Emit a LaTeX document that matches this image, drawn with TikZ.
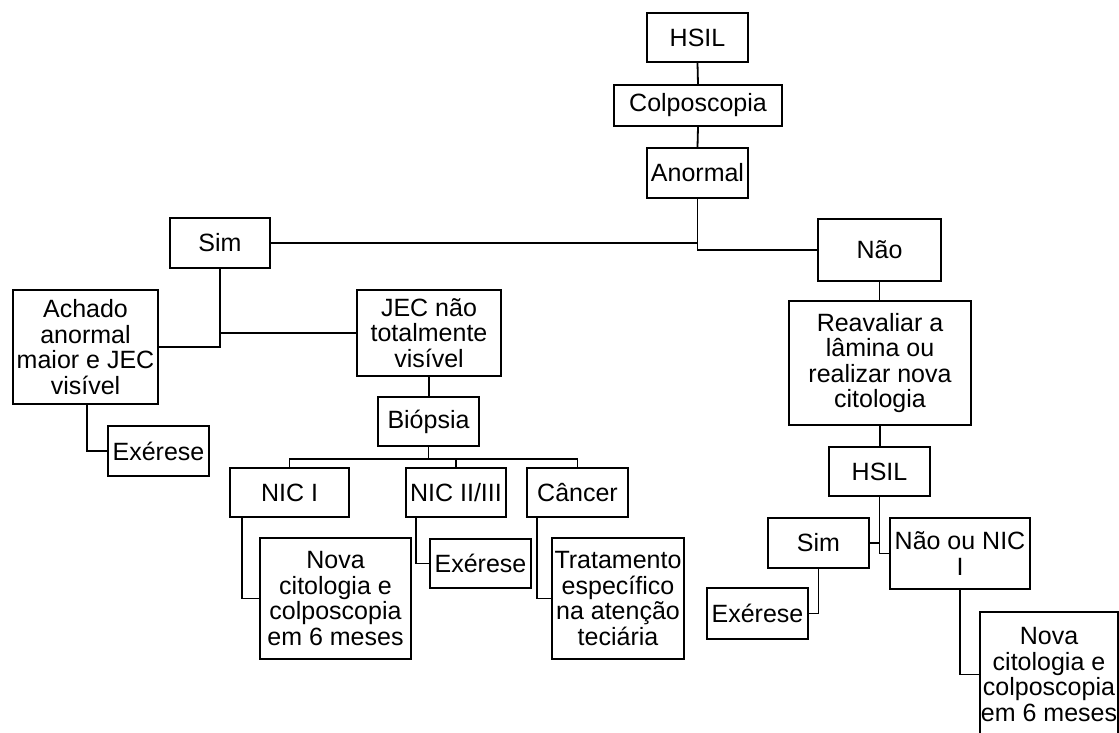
\documentclass[tikz,border=0pt]{standalone}
\usepackage{fontspec}
\setmainfont{Liberation Sans}
\begin{document}
\begin{tikzpicture}[x=1pt,y=-1pt,
  box/.style={draw=black,line width=1.8pt,fill=white,inner sep=0pt,align=center,
    font=\fontsize{25}{25.6}\selectfont},
  link/.style={draw=black,line width=1.8pt}]
\useasboundingbox (0,0) rectangle (1119,733);
\clip (0,0) rectangle (1119,733);

% top chain
\node[box,minimum width=101pt,minimum height=49pt] (hsil) at (697.5,37.5) {HSIL};
\node[box,minimum width=168pt,minimum height=41pt] (colp) at (698,105.5) {Colposcopia};
\node[box,minimum width=101pt,minimum height=50pt] (anor) at (697.5,173) {Anormal};

% first answer level
\node[box,minimum width=100pt,minimum height=50pt] (sim) at (220,243) {Sim};
\node[box,minimum width=123pt,minimum height=62pt] (nao) at (879.5,250) {Não};

% left branch
\node[box,minimum width=145pt,minimum height=114pt] (achado) at (85.5,347) {Achado\\anormal\\maior e JEC\\visível};
\node[box,minimum width=144pt,minimum height=86pt] (jec) at (429,333) {JEC não\\totalmente\\visível};
\node[box,minimum width=101pt,minimum height=50pt] (exa) at (158.5,451) {Exérese};
\node[box,minimum width=101pt,minimum height=49pt] (biop) at (428.5,421.5) {Biópsia};
\node[box,minimum width=119pt,minimum height=49pt] (nic1) at (289.5,492.5) {NIC I};
\node[box,minimum width=100pt,minimum height=49pt] (nic23) at (456,492.5) {NIC II/III};
\node[box,minimum width=101pt,minimum height=49pt] (canc) at (577.5,492.5) {Câncer};
\node[box,minimum width=151pt,minimum height=121pt] (novaa) at (335.5,598.5) {Nova\\citologia e\\colposcopia\\em 6 meses};
\node[box,minimum width=101pt,minimum height=49pt] (exb) at (480.5,563.5) {Exérese};
\node[box,minimum width=132pt,minimum height=121pt] (trat) at (618,598.5) {Tratamento\\específico\\na atenção\\teciária};

% right branch
\node[box,minimum width=182pt,minimum height=124pt] (reav) at (880,363) {Reavaliar a\\lâmina ou\\realizar nova\\citologia};
\node[box,minimum width=101pt,minimum height=49pt] (hsilb) at (879.5,471.5) {HSIL};
\node[box,minimum width=101pt,minimum height=50pt] (simb) at (818.5,543) {Sim};
\node[box,minimum width=140pt,minimum height=71pt] (naonic) at (960,553.5) {Não ou NIC\\I};
\node[box,minimum width=101pt,minimum height=51pt] (exc) at (757.5,613.5) {Exérese};
\node[box,minimum width=138pt,minimum height=125pt] (novab) at (1049,674.5) {Nova\\citologia e\\colposcopia\\em 6 meses};

% connectors
\draw[link] (hsil.south) -- (colp.north);
\draw[link] (colp.south) -- (anor.north);
\draw[link] (sim.east) -- (sim.east -| anor.south);
\draw[link] (anor.south) |- (nao.west);
\draw[link] (sim.south) |- (achado.east);
\draw[link] (sim.south |- jec.west) -- (jec.west);
\draw[link] ([xshift=1.5pt]achado.south) |- (exa.west);
\draw[link] (jec.south) -- (jec.south |- biop.north);
\coordinate (bus) at ([yshift=-12pt]biop.south);
\draw[link] (biop.south) -- (bus);
\draw[link] (nic1.north) |- (bus) -| (canc.north);
\draw[link] (nic23.north) -- (nic23.north |- bus);
\draw[link] ([xshift=13pt]nic1.south west) |- (novaa.west);
\draw[link] ([xshift=11pt]nic23.south west) |- (exb.west);
\draw[link] ([xshift=11pt]canc.south west) |- (trat.west);
\draw[link] (nao.south) -- (nao.south |- reav.north);
\draw[link] (reav.south) -- (reav.south |- hsilb.north);
\draw[link] (hsilb.south) |- (naonic.west);
\draw[link] (simb.east) -- (simb.east -| hsilb.south);
\draw[link] (simb.south) |- (exc.east);
\draw[link] (naonic.south) |- (novab.west);
\end{tikzpicture}
\end{document}
